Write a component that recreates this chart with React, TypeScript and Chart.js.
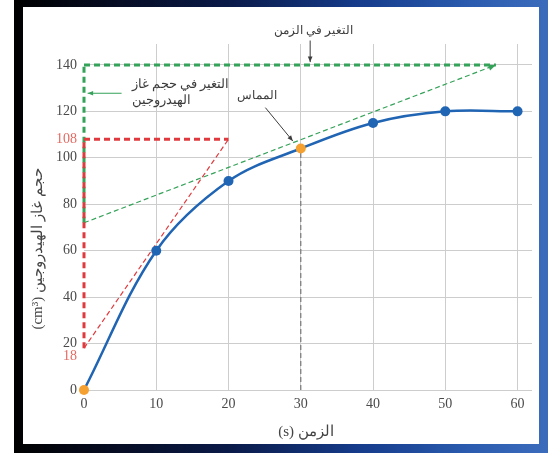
import React, { useEffect, useRef } from 'react';
import { Chart, registerables } from 'chart.js';

Chart.register(...registerables);

// ---- data ----
const timeTicks = [0, 10, 20, 30, 40, 50, 60];
const volumeTicks = [0, 20, 40, 60, 80, 100, 120, 140];
const chordTopLabel = 108;
const chordBottomLabel = 18;

const timeS = [0, 10, 20, 30, 40, 50, 60];
const volumeCm3 = [0, 60, 90, 104, 115, 120, 120];
const highlightedTimes = [0, 30];

const tangentX = [0, 57];
const tangentY = [72, 140];
const deltaTimeX = [0, 57];
const deltaTimeY = [140, 140];
const deltaVolX = [0, 0];
const deltaVolY = [72, 140];

const chordX = [0, 20];
const chordY = [18, 108];
const chordTopX = [0, 20];
const chordTopY = [108, 108];
const chordSideX = [0, 0];
const chordSideY = [18, 108];

const dropX = [30, 30];
const dropY = [0, 104];

const xTitle = 'الزمن (s)';
const yTitle = 'حجم غاز الهيدروجين (cm³)';
const noteTime = 'التغير في الزمن';
const noteVol1 = 'التغير في حجم غاز';
const noteVol2 = 'الهيدروجين';
const noteTangent = 'المماس';

// ---- styles ----
const BLUE = '#2064b4';
const ORANGE = '#f5a132';
const GREEN = '#35a25a';
const RED = '#e03a3e';
const RED_LABEL = '#e46a62';
const GRID = '#cdcdcd';
const TEXT = '#4a4a4a';
const NOTE = '#3c3c3c';
const SERIF = "'Liberation Serif', 'DejaVu Serif', serif";

const pts = (xs: number[], ys: number[]) => xs.map((x, i) => ({ x, y: ys[i] }));

function arrowHead(ctx: CanvasRenderingContext2D, fx: number, fy: number, tx: number, ty: number, size: number, color: string) {
  const a = Math.atan2(ty - fy, tx - fx);
  ctx.save();
  ctx.fillStyle = color;
  ctx.beginPath();
  ctx.moveTo(tx, ty);
  ctx.lineTo(tx - size * Math.cos(a - 0.4), ty - size * Math.sin(a - 0.4));
  ctx.lineTo(tx - size * Math.cos(a + 0.4), ty - size * Math.sin(a + 0.4));
  ctx.closePath();
  ctx.fill();
  ctx.restore();
}

function arrow(ctx: CanvasRenderingContext2D, fx: number, fy: number, tx: number, ty: number, color: string, width: number, head: number) {
  ctx.save();
  ctx.strokeStyle = color;
  ctx.lineWidth = width;
  ctx.setLineDash([]);
  ctx.beginPath();
  ctx.moveTo(fx, fy);
  ctx.lineTo(tx, ty);
  ctx.stroke();
  ctx.restore();
  arrowHead(ctx, fx, fy, tx, ty, head, color);
}

const notesPlugin = {
  id: 'notes',
  afterDatasetsDraw(chart: any) {
    const ctx: CanvasRenderingContext2D = chart.ctx;
    const xs = chart.scales.x;
    const ys = chart.scales.y;
    const px = (v: number) => xs.getPixelForValue(v);
    const py = (v: number) => ys.getPixelForValue(v);
    ctx.save();

    // tangent arrow head
    arrowHead(ctx, px(tangentX[0]), py(tangentY[0]), px(tangentX[1]), py(tangentY[1]), 8, GREEN);

    // red chord labels on the y axis
    ctx.direction = 'ltr';
    ctx.font = `14px ${SERIF}`;
    ctx.fillStyle = RED_LABEL;
    ctx.textAlign = 'right';
    ctx.textBaseline = 'middle';
    ctx.fillText(String(chordTopLabel), xs.left - 7, py(chordTopLabel));
    ctx.fillText(String(chordBottomLabel), xs.left - 7, py(chordBottomLabel) + 8);

    ctx.direction = 'rtl';
    ctx.fillStyle = NOTE;

    // top note: change in time
    ctx.font = `12px ${SERIF}`;
    ctx.textAlign = 'center';
    ctx.fillText(noteTime, px(31.8), py(154.5));
    arrow(ctx, px(31.3), py(150.5), px(31.3), py(141.2), NOTE, 1, 6);

    // left note: change in volume
    ctx.font = `13px ${SERIF}`;
    ctx.textAlign = 'left';
    ctx.fillText(noteVol1, px(6.6), py(131.6));
    ctx.fillText(noteVol2, px(6.6), py(124.6));
    arrow(ctx, px(5.2), py(127.8), px(0.5), py(127.8), GREEN, 1.2, 6);

    // tangent note
    ctx.font = `12px ${SERIF}`;
    ctx.textAlign = 'center';
    ctx.fillText(noteTangent, px(24), py(126.5));
    arrow(ctx, px(25.1), py(121.6), px(28.9), py(107.2), NOTE, 1, 6);

    // axis titles
    ctx.fillStyle = '#444444';
    ctx.font = `15px ${SERIF}`;
    ctx.textAlign = 'center';
    ctx.fillText(xTitle, (xs.left + xs.right) / 2 - 2, chart.height - 12);

    ctx.save();
    ctx.translate(15, 242);
    ctx.rotate(-Math.PI / 2);
    ctx.font = `15px ${SERIF}`;
    ctx.fillText(yTitle, 0, 0);
    ctx.restore();

    ctx.restore();
  },
};

const App = () => {
  const ref = useRef<HTMLCanvasElement>(null);

  useEffect(() => {
    const canvas = ref.current;
    if (!canvas) return;
    const thick = { borderWidth: 3, borderDash: [6, 4], pointRadius: 0, fill: false, clip: false };
    const thin = { borderWidth: 1.2, borderDash: [5, 3], pointRadius: 0, fill: false, clip: false };
    const chart = new Chart(canvas, {
      type: 'line',
      data: {
        datasets: [
          {
            data: pts(timeS, volumeCm3),
            borderColor: BLUE,
            borderWidth: 2.5,
            tension: 0.35,
            pointRadius: 5,
            pointBorderWidth: 0,
            pointBackgroundColor: timeS.map((t) => (highlightedTimes.includes(t) ? ORANGE : BLUE)),
            fill: false,
            clip: false,
          } as any,
          { data: pts(chordSideX, chordSideY), borderColor: RED, ...thick },
          { data: pts(chordTopX, chordTopY), borderColor: RED, ...thick },
          { data: pts(chordX, chordY), borderColor: RED, ...thin },
          { data: pts(tangentX, tangentY), borderColor: GREEN, ...thin },
          { data: pts(deltaTimeX, deltaTimeY), borderColor: GREEN, ...thick },
          { data: pts(deltaVolX, deltaVolY), borderColor: GREEN, ...thick },
          { data: pts(dropX, dropY), borderColor: '#777777', borderWidth: 1.2, borderDash: [5, 3], pointRadius: 0, clip: false },
        ],
      },
      options: {
        responsive: false,
        animation: false,
        events: [],
        layout: { padding: { top: 37, right: 7, left: 0, bottom: 0 } },
        plugins: { legend: { display: false }, tooltip: { enabled: false }, title: { display: false } },
        scales: {
          x: {
            type: 'linear',
            min: 0,
            max: 62,
            afterBuildTicks: (s: any) => {
              s.ticks = timeTicks.map((v) => ({ value: v }));
            },
            afterFit: (s: any) => {
              s.height = 54;
            },
            border: { display: false },
            grid: {
              color: (c: any) => (c.tick && c.tick.value === 0 ? 'rgba(0,0,0,0)' : GRID),
              lineWidth: 1,
              drawTicks: false,
            },
            ticks: { color: TEXT, font: { family: SERIF, size: 14 }, padding: 6, autoSkip: false, maxRotation: 0 },
          },
          y: {
            type: 'linear',
            min: 0,
            max: 149,
            afterBuildTicks: (s: any) => {
              s.ticks = volumeTicks.map((v) => ({ value: v }));
            },
            afterFit: (s: any) => {
              s.width = 61;
            },
            border: { display: false },
            grid: { color: GRID, lineWidth: 1, drawTicks: false },
            ticks: { color: TEXT, font: { family: SERIF, size: 14 }, padding: 7, autoSkip: false },
          },
        },
      },
      plugins: [notesPlugin],
    } as any);
    return () => chart.destroy();
  }, []);

  return (
    <div style={{ position: 'absolute', left: 0, top: 0, width: 555, height: 455, background: '#ffffff', overflow: 'hidden' }}>
      <div
        style={{
          position: 'absolute',
          left: 14,
          top: 0,
          width: 534,
          height: 453,
          background: 'linear-gradient(to right, #000000 0%, #050a1c 15%, #0a1a48 40%, #163c8c 65%, #2a5bae 85%, #3b6cbc 100%)',
        }}
      />
      <div style={{ position: 'absolute', left: 23, top: 7, width: 516, height: 437, background: '#ffffff' }}>
        <canvas ref={ref} width={516} height={437} style={{ display: 'block', width: 516, height: 437 }} />
      </div>
    </div>
  );
};

export default App;
